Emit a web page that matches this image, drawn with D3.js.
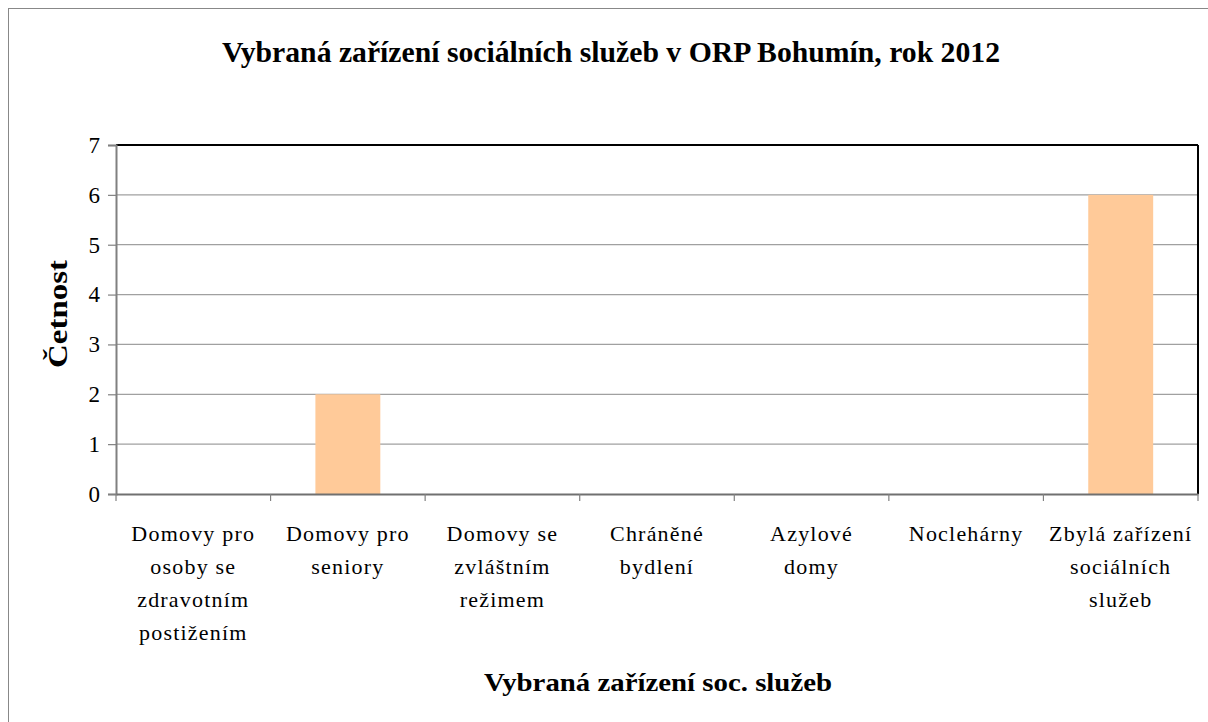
<!DOCTYPE html>
<html><head><meta charset="utf-8">
<script src="https://cdn.jsdelivr.net/npm/d3@7"></script>
<style>body{margin:0;background:#fff}svg{display:block}
svg text{font-family:'Liberation Serif','Times New Roman',Tinos,'DejaVu Serif',serif !important;fill:#000}</style>
</head><body>
<svg id="c" width="1208" height="722"></svg>
<script>
const categories = [
  ["Domovy pro","osoby se","zdravotním","postižením"],
  ["Domovy pro","seniory"],
  ["Domovy se","zvláštním","režimem"],
  ["Chráněné","bydlení"],
  ["Azylové","domy"],
  ["Noclehárny"],
  ["Zbylá zařízení","sociálních","služeb"]
];
const values = [0,2,0,0,0,0,6];
const yTicks = [0,1,2,3,4,5,6,7];
const title = "Vybraná zařízení sociálních služeb v ORP Bohumín, rok 2012";
const xTitle = "Vybraná zařízení soc. služeb";
const yTitle = "Četnost";

const svg = d3.select("#c");
const L=116, R=1198, T=145, B=494;
const x = d3.scaleBand().domain(d3.range(categories.length)).range([L,R]).paddingInner(0).paddingOuter(0);
const y = d3.scaleLinear().domain([0,7]).range([B,T]);

svg.append("rect").attr("x",8.5).attr("y",8.5).attr("width",1220).attr("height",730).attr("fill","none").attr("stroke","#888").attr("stroke-width",1);

// gridlines
svg.append("g").selectAll("line").data(yTicks.filter(d=>d>0&&d<7)).join("line")
  .attr("x1",L).attr("x2",R).attr("y1",d=>y(d)).attr("y2",d=>y(d))
  .attr("stroke","#a0a0a0").attr("stroke-width",1.2);

// bars
const bw = x.bandwidth()*0.42;
svg.append("g").selectAll("rect").data(values).join("rect")
  .attr("x",(d,i)=>x(i)+x.bandwidth()/2-bw/2).attr("width",bw)
  .attr("y",d=>y(d)).attr("height",d=>B-y(d)).attr("fill","#FFCA99");

// frame top/right
svg.append("line").attr("x1",L).attr("x2",R).attr("y1",T).attr("y2",T).attr("stroke","#000").attr("stroke-width",2);
svg.append("line").attr("x1",R).attr("x2",R).attr("y1",T).attr("y2",B).attr("stroke","#000").attr("stroke-width",2);

// y axis
const ya = svg.append("g").attr("transform",`translate(${L},0)`)
  .call(d3.axisLeft(y).tickValues(yTicks).tickSize(8).tickPadding(8).tickFormat(d3.format("d")));
ya.attr("font-family",null);
ya.select(".domain").attr("stroke","#808080").attr("stroke-width",2);
ya.selectAll(".tick line").attr("stroke","#808080").attr("stroke-width",1.2);
ya.selectAll(".tick text").attr("font-size","23px").attr("fill","#000");

// x axis
const xa = svg.append("g").attr("transform",`translate(0,${B})`)
  .call(d3.axisBottom(x).tickSize(0).tickFormat(""));
xa.select(".domain").attr("stroke","#707070").attr("stroke-width",2);
const bounds = d3.range(categories.length+1).map(i=> i<categories.length ? x(i) : R);
svg.append("g").selectAll("line").data(bounds).join("line")
  .attr("x1",d=>d).attr("x2",d=>d).attr("y1",B).attr("y2",B+7)
  .attr("stroke","#808080").attr("stroke-width",1.2);

// category labels
const cl = svg.append("g").selectAll("text").data(categories).join("text")
  .attr("x",(d,i)=>x(i)+x.bandwidth()/2).attr("y",541)
  .attr("text-anchor","middle").attr("font-size","22px").attr("letter-spacing","1.2px");
cl.selectAll("tspan").data(d=>d).join("tspan")
  .attr("x",function(){return d3.select(this.parentNode).attr("x");})
  .attr("dy",(d,i)=>i===0?0:33).text(d=>d);

// titles
svg.append("text").attr("x",611).attr("y",62).attr("text-anchor","middle")
  .attr("font-size","29px").attr("font-weight","bold")
  .attr("textLength",778).attr("lengthAdjust","spacingAndGlyphs").text(title);
svg.append("text").attr("x",658).attr("y",691).attr("text-anchor","middle")
  .attr("font-size","26px").attr("font-weight","bold")
  .attr("textLength",348).attr("lengthAdjust","spacingAndGlyphs").text(xTitle);
svg.append("text").attr("transform","translate(67,314) rotate(-90)").attr("text-anchor","middle")
  .attr("font-size","28px").attr("font-weight","bold")
  .attr("textLength",108).attr("lengthAdjust","spacingAndGlyphs").text(yTitle);
</script>
</body></html>
